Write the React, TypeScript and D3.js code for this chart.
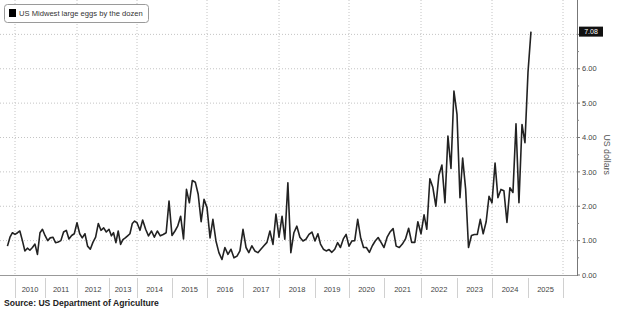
import React from 'react';
import * as d3 from 'd3';

const seriesName = 'US Midwest large eggs by the dozen';
const yAxisTitle = 'US dollars';
const sourceText = 'Source: US Department of Agriculture';
const firstMonth = { year: 2009, month: 9 }; // October 2009 (0-based month)

// Monthly price readings, October 2009 through February 2025
const prices = [
  0.84, 1.1, 1.23,
  1.18, 1.23, 1.28, 1.0, 0.7, 0.78, 0.72, 0.8, 0.9, 0.6, 1.23, 1.33,
  1.15, 1.0, 1.08, 1.1, 0.94, 0.96, 1.0, 1.25, 1.3, 1.05, 1.15, 1.2,
  1.52, 1.2, 1.08, 1.2, 0.84, 0.75, 0.95, 1.1, 1.5, 1.3, 1.37, 1.25,
  1.33, 1.14, 1.23, 0.94, 1.28, 0.89, 1.03, 1.08, 1.14, 1.2, 1.5, 1.57,
  1.52, 1.3, 1.6, 1.33, 1.14, 1.28, 1.1, 1.28, 1.14, 1.18, 1.23, 2.15,
  1.15, 1.28, 1.42, 1.71, 1.05, 2.49, 2.1, 2.75, 2.7, 2.35, 1.55, 2.2,
  1.96, 1.08, 1.62, 0.99, 0.65, 0.45, 0.8, 0.6, 0.75, 0.5, 0.55, 0.7,
  1.33, 0.8, 0.65, 0.85, 0.7, 0.65, 0.75, 0.85, 0.95, 1.28, 0.89, 1.77,
  1.1, 1.71, 1.04, 2.68, 0.65, 1.23, 1.42, 1.1, 0.99, 1.04, 1.18, 1.25,
  0.99, 1.2, 0.9, 0.75, 0.7, 0.74, 0.66, 0.75, 0.94, 0.8, 1.05, 1.18,
  0.84, 0.99, 1.0, 1.62, 1.1, 0.8, 0.8, 0.66, 0.85, 0.99, 1.09, 0.95,
  0.8, 1.1, 1.25, 1.35, 0.84, 0.8, 0.9, 1.05, 1.36, 0.95, 0.95, 1.55,
  1.2, 1.75, 1.33, 2.8, 2.55, 2.0, 2.9, 3.2, 2.1, 4.04, 3.1, 5.35,
  4.67, 2.25, 3.4, 2.5, 0.8, 1.15, 1.18, 1.18, 1.62, 1.2, 1.55, 2.29,
  2.1, 3.26, 2.25, 2.49, 2.45, 1.53, 2.54, 2.4, 4.4, 2.1, 4.38, 3.85,
  5.9, 7.08,
];

const yearLabels = ['2010', '2011', '2012', '2013', '2014', '2015', '2016', '2017',
  '2018', '2019', '2020', '2021', '2022', '2023', '2024', '2025'];
// relative widths the source's uneven time axis gives to each year
const yearWidthWeights = [30, 32, 32, 28, 35, 35, 36, 36, 36, 34, 35, 37, 36, 35, 36, 35];
const yTicks = [0, 1, 2, 3, 4, 5, 6];
const yGrid = [1, 2, 3, 4, 5, 6, 7];

const FONT = "'Liberation Sans', Arial, sans-serif";

export default function App() {
  const W = 620, H = 310;
  const xStart = 15, xEnd = 563;
  const axisX = 577;
  const baseY = 275;

  const y = d3.scaleLinear().domain([0, 8]).range([baseY, 0]);

  const total = d3.sum(yearWidthWeights);
  const edges = [xStart];
  yearWidthWeights.forEach((w) => edges.push(edges[edges.length - 1] + (w * (xEnd - xStart)) / total));
  const yearDates = d3.range(2010, 2027).map((yy) => new Date(Date.UTC(yy, 0, 1)));
  const x = d3.scaleUtc().domain(yearDates).range(edges);

  const start = new Date(Date.UTC(firstMonth.year, firstMonth.month, 1));
  const data = prices.map((v, i) => ({ date: d3.utcMonth.offset(start, i), value: v }));
  const line = d3.line<{ date: Date; value: number }>()
    .x((d) => x(d.date))
    .y((d) => y(d.value));

  const last = data[data.length - 1];
  const minorTicks = d3.range(0.5, 7.5, 1);

  return (
    <div style={{ position: 'absolute', left: 0, top: 0 }}>
      <svg width={W} height={H} style={{ display: 'block', background: '#fff' }} fontFamily={FONT}>
        <rect x={0} y={0} width={W} height={H} fill="#fff" />
        {/* vertical dotted grid every two years */}
        {yearDates.filter((_, i) => i % 2 === 0).map((d, i) => (
          <line key={'vg' + i} x1={x(d)} x2={x(d)} y1={0} y2={baseY}
            stroke="#c4c4c4" strokeWidth={1} strokeDasharray="1,2" />
        ))}
        {/* horizontal dotted grid */}
        {yGrid.map((g) => (
          <line key={'hg' + g} x1={0} x2={axisX} y1={y(g)} y2={y(g)}
            stroke="#c4c4c4" strokeWidth={1} strokeDasharray="1,2" />
        ))}
        {/* bottom baseline */}
        <line x1={0} x2={axisX} y1={baseY + 0.5} y2={baseY + 0.5} stroke="#999" strokeWidth={1} />
        {/* year band separators and labels */}
        {yearDates.map((d, i) => (
          <line key={'ys' + i} x1={Math.round(x(d)) + 0.5} x2={Math.round(x(d)) + 0.5} y1={278} y2={298}
            stroke="#d0d0d0" strokeWidth={1} />
        ))}
        {yearLabels.map((lab, i) => (
          <text key={'yl' + lab} x={(x(yearDates[i]) + x(yearDates[i + 1])) / 2} y={292}
            fontSize={7.5} fill="#444" textAnchor="middle">{lab}</text>
        ))}
        {/* series */}
        <path d={line(data) || ''} fill="none" stroke="#222" strokeWidth={1.6} strokeLinejoin="round" />
        {/* right axis */}
        <line x1={axisX + 0.5} x2={axisX + 0.5} y1={0} y2={baseY + 1} stroke="#777" strokeWidth={1} />
        {minorTicks.map((t) => (
          <line key={'mt' + t} x1={axisX} x2={axisX + 2} y1={y(t)} y2={y(t)} stroke="#888" strokeWidth={1} />
        ))}
        {yTicks.concat([7]).map((t) => (
          <line key={'t' + t} x1={axisX} x2={axisX + 3} y1={y(t)} y2={y(t)} stroke="#777" strokeWidth={1} />
        ))}
        {yTicks.map((t) => (
          <text key={'tl' + t} x={axisX + 5} y={y(t)} dy="0.35em" fontSize={7.5} fill="#444">
            {t.toFixed(2)}
          </text>
        ))}
        {/* last value tag */}
        <rect x={axisX + 2} y={y(last.value) - 5} width={24} height={10} fill="#111" />
        <text x={axisX + 14} y={y(last.value)} dy="0.35em" fontSize={7} fill="#fff" textAnchor="middle">
          {last.value.toFixed(2)}
        </text>
        {/* y axis title */}
        <text transform={`translate(607,${(y(0) + y(7)) / 2}) rotate(90)`} fontSize={8.8} fill="#555"
          textAnchor="middle" dy="0.35em">{yAxisTitle}</text>
        {/* legend */}
        <rect x={4.5} y={4.5} width={144} height={18} rx={3} fill="#fff" stroke="#9a9a9a" strokeWidth={1} />
        <rect x={9} y={9} width={7} height={8} fill="#000" />
        <text x={19} y={13} dy="0.35em" fontSize={7.6} fill="#333">{seriesName}</text>
        {/* source */}
        <text x={4} y={306} fontSize={8.6} fontWeight="bold" fill="#222">{sourceText}</text>
      </svg>
    </div>
  );
}
